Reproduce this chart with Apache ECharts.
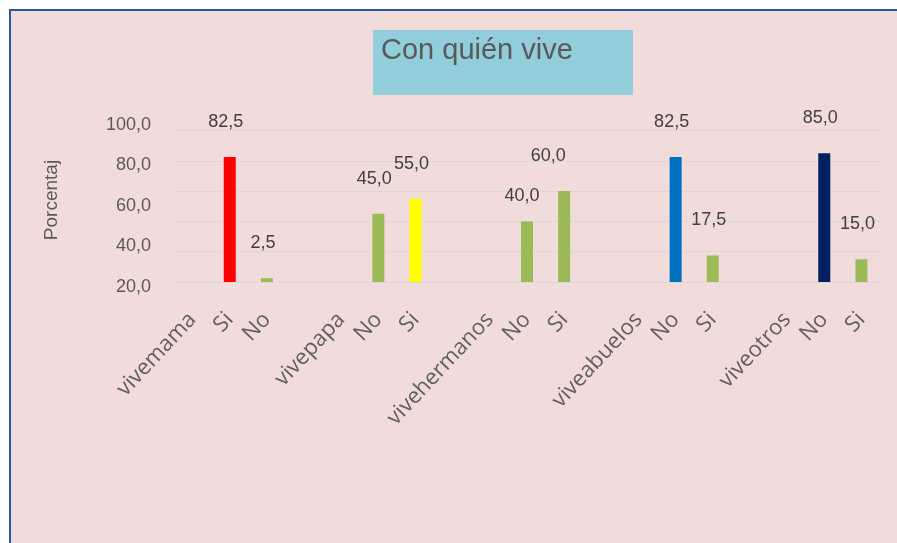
<!DOCTYPE html>
<html>
<head>
<meta charset="utf-8">
<script src="https://cdn.jsdelivr.net/npm/echarts@6/dist/echarts.min.js"></script>
<style>
html,body{margin:0;padding:0;background:#fff;}
#c{width:897px;height:543px;}
</style>
</head>
<body>
<div id="c"></div>
<script>
// Data
const categories = ['vivemama','Si','No','', 'vivepapa','No','Si','', 'vivehermanos','No','Si','', 'viveabuelos','No','Si','', 'viveotros','No','Si'];
const values = [null, 82.5, 2.5, null, null, 45.0, 55.0, null, null, 40.0, 60.0, null, null, 82.5, 17.5, null, null, 85.0, 15.0];
const yTickValues = [20, 40, 60, 80, 100];
const titleText = 'Con quién vive';
const yTitle = 'Porcentaj';

// Styling (kept apart from data)
const barColors = [null,'#FF0000','#9BBB59',null,null,'#9BBB59','#FFFF00',null,null,'#9BBB59','#9BBB59',null,null,'#0070C0','#9BBB59',null,null,'#002060','#9BBB59'];
const labelOffsets = {9: [-5, 10], 10: [-16, 0]};

const fmt = v => v.toFixed(1).replace('.', ',');

const seriesData = values.map((v, i) => {
  if (v === null) return null;
  const item = { value: v, itemStyle: { color: barColors[i] } };
  if (labelOffsets[i]) item.label = { offset: labelOffsets[i] };
  return item;
});

const chart = echarts.init(document.getElementById('c'), null, {renderer: 'canvas'});
chart.setOption({
  backgroundColor: '#ffffff',
  animation: false,
  graphic: [
    { type: 'rect', z: -10, shape: { x: 10, y: 10, width: 900, height: 540 },
      style: { fill: '#F2DCDB', stroke: '#2F5597', lineWidth: 2 } },
    { type: 'rect', z: -5, shape: { x: 373, y: 30, width: 260, height: 65 },
      style: { fill: '#92CDDC' } },
    { type: 'text', z: 5, x: 381, y: 51,
      style: { text: titleText, font: '29px "Liberation Sans", Arial, sans-serif', fill: '#595959', verticalAlign: 'middle' } },
    { type: 'text', z: 5, x: 52, y: 200, rotation: Math.PI / 2,
      style: { text: yTitle, font: '19px "Liberation Sans", Arial, sans-serif', fill: '#595959', align: 'center', verticalAlign: 'middle' } }
  ],
  grid: [
    { left: 174, right: 17, top: 130.5, bottom: 261, containLabel: false },
    { left: 159, width: 1, top: 125, bottom: 256, containLabel: false }
  ],
  xAxis: [
    { gridIndex: 0, type: 'category', data: categories,
      axisLine: { show: false }, axisTick: { show: false },
      axisLabel: { interval: 0, rotate: 47, margin: 34, fontSize: 22, fontFamily: '"Open Sans", sans-serif', color: '#606060' } },
    { gridIndex: 1, type: 'value', show: false }
  ],
  yAxis: [
    { gridIndex: 0, type: 'value', min: 0, max: 100, interval: 20,
      axisLabel: { show: false }, axisLine: { show: false }, axisTick: { show: false },
      splitLine: { lineStyle: { color: '#D9D9DC', width: 1 } } },
    { gridIndex: 1, type: 'value', min: yTickValues[0], max: yTickValues[yTickValues.length - 1], interval: 20,
      axisLine: { show: false }, axisTick: { show: false }, splitLine: { show: false },
      axisLabel: { formatter: v => fmt(v), fontSize: 18, fontFamily: '"Liberation Sans", Arial, sans-serif', color: '#595959', margin: 8 } }
  ],
  series: [{
    type: 'bar', xAxisIndex: 0, yAxisIndex: 0, barWidth: 12,
    data: seriesData,
    label: { show: true, position: 'top', distance: 26, offset: [-4, 0],
      formatter: p => fmt(p.value), fontSize: 18, fontFamily: '"Liberation Sans", Arial, sans-serif', color: '#404040' }
  }]
});
</script>
</body>
</html>
